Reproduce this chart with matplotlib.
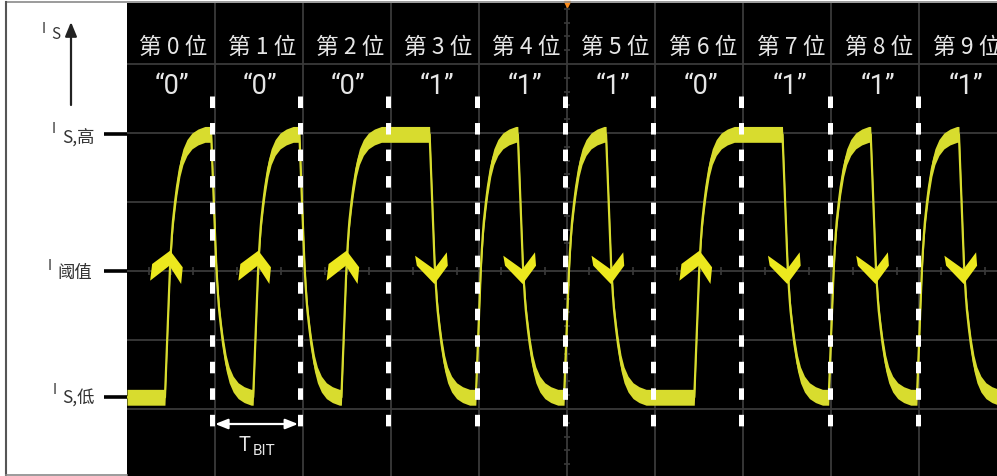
import numpy as np
import matplotlib
matplotlib.use("Agg")
import matplotlib.pyplot as plt
from matplotlib.patches import Polygon
from matplotlib.lines import Line2D

plt.rcParams['lines.scale_dashes'] = False

# ---------------- data ----------------
bit_labels = ['第 0 位', '第 1 位', '第 2 位', '第 3 位', '第 4 位',
              '第 5 位', '第 6 位', '第 7 位', '第 8 位', '第 9 位']
bit_values = [0, 0, 0, 1, 1, 1, 0, 1, 1, 1]
value_labels = ['“0”', '“0”', '“0”', '“1”', '“1”', '“1”', '“0”', '“1”', '“1”', '“1”']

# current levels (in screen divisions, 0 = threshold)
I_high = 1.98
I_low = -1.83
I_thr = 0.0

# edge shape: offset after edge start (px) -> fraction of swing
edge_t_px = [0, 1, 2, 3, 4, 5, 6, 7, 8, 10, 12, 15, 18, 22, 27, 33, 40]
edge_frac = [0, 0.10, 0.20, 0.30, 0.40, 0.49, 0.56, 0.62, 0.67, 0.74, 0.80,
             0.87, 0.915, 0.95, 0.975, 0.99, 1.0]

bit_start = -0.036      # divisions
bit_period = 1.0025     # divisions (T_BIT)
mid_lead = 0.034
boundary_lead = 0.01

# ---------------- layout ----------------
W, H = 997, 477
PXX, PXY = 88.0, 69.0           # pixels per division
X0, Y0 = 127.0, 272.0           # screen left edge, threshold line (px)
fig = plt.figure(figsize=(W / 100, H / 100), dpi=100)
fig.patch.set_facecolor('white')
ax = fig.add_axes([X0 / W, 0, (W - X0) / W, (H - 4) / H])
ax.set_facecolor('black')
xmax = (W - X0) / PXX
ax.set_xlim(0, xmax)
ax.set_ylim((Y0 - H) / PXY, (Y0 - 4) / PXY)
for s in ax.spines.values():
    s.set_visible(False)

grid_c = '#3a3a3a'
ax.set_xticks(np.arange(1, 10))
ax.set_yticks(np.arange(-2, 4))
ax.grid(True, color=grid_c, lw=1.3)
ax.set_axisbelow(True)
ax.tick_params(length=0, labelbottom=False, labelleft=False)

# centre-axis minor ticks
qx = [k + q for k in range(10) for q in (0.25, 0.5, 0.75) if k + q < xmax]
ax.plot(qx, np.zeros(len(qx)), ls='none', marker='|', ms=6, mew=1.2, color=grid_c, zorder=1)
qy = [j / 5 for j in range(-15, 20) if j % 5 != 0]
ax.plot(np.full(len(qy), 5.0), qy, ls='none', marker='_', ms=5, mew=1.2, color=grid_c, zorder=1)
ax.plot([5], [(Y0 - 5) / PXY], marker='v', ms=4, color='#ff8c1a', clip_on=False, zorder=6)

def lx(px):
    return (px - X0) / PXX

def ly(py):
    return (Y0 - py) / PXY

# ---------------- waveform ----------------
edges = []
level = I_low
for k, b in enumerate(bit_values):
    t0 = bit_start + k * bit_period
    if k > 0 and b == bit_values[k - 1]:
        target = I_high if b == 1 else I_low
        edges.append((t0 - boundary_lead, level, target))
        level = target
    c = t0 + bit_period / 2
    target = I_low if b == 1 else I_high
    edges.append((c - mid_lead, level, target))
    level = target

wx, wy = [0.0], [I_low]
for s, a, b in edges:
    for t, f in zip(edge_t_px, edge_frac):
        wx.append(s + t / PXX)
        wy.append(a + (b - a) * f)
wx.append(xmax)
wy.append(level)
wx = np.array(wx)
wy = np.array(wy)

trace_c = '#d8dc2e'
band = 0.115
ax.fill_between(wx, wy - band, wy + band, color=trace_c, lw=0, zorder=3)
ax.plot(wx, wy, color=trace_c, lw=1.6, zorder=3)

# ---------------- chevrons ----------------
up_shape = [(0.7, -20.3), (13.3, -3.7), (11.7, 13), (0, -5.3), (-19.3, 9.7), (-17.3, -7)]
down_shape = [(-19, -15.3), (0, -1.7), (12.7, -18.7), (13.7, -5.3), (0.3, 13), (-17.3, -5.3)]
chev_c = '#ece81e'
for k, b in enumerate(bit_values):
    xc = bit_start + (k + 0.5) * bit_period + 0.017
    shape = down_shape if b == 1 else up_shape
    pts = [(xc + dx / PXX, I_thr - dy / PXY) for dx, dy in shape]
    ax.add_patch(Polygon(pts, closed=True, fc=chev_c, ec='none', zorder=4))

# ---------------- dashed bit boundaries ----------------
bx = [bit_start + k * bit_period for k in range(1, 10)]
ax.vlines(bx, ly(97), ly(430), colors='white', lw=3.6,
          linestyles=[(0, (8.3, 10.8))], zorder=5)

# ---------------- top labels ----------------
txt_c = '#e6e6e6'
cjk = ['Noto Sans CJK SC', 'DejaVu Sans']
for k in range(10):
    c = bit_start + (k + 0.5) * bit_period
    ax.text(c + 0.065, ly(53.5), bit_labels[k], ha='center', va='baseline',
            fontsize=16.4, color=txt_c, family=cjk, zorder=6)
    ax.text(c + 0.045, ly(94), value_labels[k], ha='center', va='baseline',
            fontsize=19.5, color=txt_c, family=['Roboto', 'DejaVu Sans'],
            zorder=6)

# ---------------- T_BIT arrow ----------------
ax.annotate('', xy=(bx[1] - 0.025, ly(425)), xytext=(bx[0] + 0.035, ly(425)),
            arrowprops=dict(arrowstyle='<|-|>,head_length=0.75,head_width=0.3',
                            color='white', lw=1.6, mutation_scale=10,
                            shrinkA=0, shrinkB=0), zorder=6)
ax.text(lx(244), ly(451), 'T', ha='center', va='baseline', fontsize=14.5,
        color=txt_c, family=['Roboto', 'DejaVu Sans'])
ax.text(lx(264), ly(455), 'BIT', ha='center', va='baseline', fontsize=11,
        color=txt_c, family=['Roboto', 'DejaVu Sans'])

# ---------------- left panel ----------------
lab_c = '#333333'
ax.text(lx(43.5), ly(33), 'I', ha='center', va='baseline', fontsize=10,
        color=lab_c, family=cjk)
ax.text(lx(56), ly(39), 'S', ha='center', va='baseline', fontsize=11,
        color=lab_c, family=cjk)
ax.annotate('', xy=(lx(71), ly(23)), xytext=(lx(71), ly(106)),
            arrowprops=dict(arrowstyle='-|>,head_length=0.85,head_width=0.35',
                            color='#222222', lw=1.6, mutation_scale=10,
                            shrinkA=0, shrinkB=0), annotation_clip=False)

level_ticks = [I_high, I_thr, I_low]
level_sub = ['S,高', '阈值', 'S,低']
i_pos = [(54, 133), (50, 270), (55, 394)]
sub_pos = [(62, 143.5), (57, 278), (62, 404)]
for lev, sub, ip, sp in zip(level_ticks, level_sub, i_pos, sub_pos):
    ax.plot([lx(104), 0], [lev, lev], color='black', lw=2.6, clip_on=False,
            solid_capstyle='butt', zorder=6)
    ax.text(lx(ip[0]), ly(ip[1]), 'I', ha='center', va='baseline', fontsize=10,
            color=lab_c, family=cjk)
    ax.text(lx(sp[0]), ly(sp[1]), sub, ha='left', va='baseline', fontsize=12.5,
            color=lab_c, family=cjk)

# frame of the white panel
bc = '#8a8a8a'
fig.add_artist(Line2D([6 / W, 1], [1 - 3 / H] * 2, transform=fig.transFigure, color=bc, lw=1.2))
fig.add_artist(Line2D([6 / W] * 2, [1 - 3 / H, 1 - 476 / H], transform=fig.transFigure, color='#555555', lw=1.5))
fig.add_artist(Line2D([6 / W, X0 / W], [1 - 476 / H] * 2, transform=fig.transFigure, color=bc, lw=1.2))

fig.savefig('out.png', dpi=100, facecolor='white')
